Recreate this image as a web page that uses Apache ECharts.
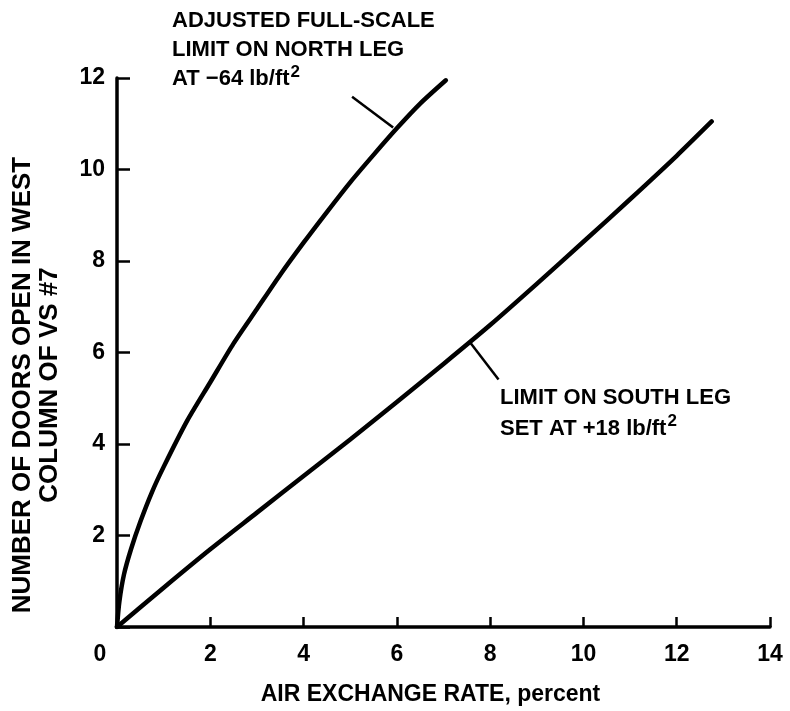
<!DOCTYPE html>
<html>
<head>
<meta charset="utf-8">
<script src="https://cdn.jsdelivr.net/npm/echarts@6/dist/echarts.min.js"></script>
<style>
html,body{margin:0;padding:0;background:#fff;}
#chart{width:790px;height:711px;}
</style>
</head>
<body>
<div id="chart"></div>
<script>
// Data
const xTicks = [0, 2, 4, 6, 8, 10, 12, 14];
const yTicks = [0, 2, 4, 6, 8, 10, 12];
const northX = [0, 0.05, 0.15, 0.3, 0.5, 0.75, 1, 1.5, 2, 2.5, 3, 3.5, 4, 4.5, 5, 5.5, 6, 6.5, 7.05];
const northY = [0, 0.55, 1.15, 1.7, 2.3, 2.95, 3.5, 4.5, 5.35, 6.2, 6.95, 7.7, 8.4, 9.07, 9.72, 10.32, 10.9, 11.44, 11.95];
const southX = [0, 1, 2, 3, 4, 5, 6, 7, 8, 9, 10, 11, 12, 12.75];
const southY = [0, 0.86, 1.7, 2.5, 3.3, 4.1, 4.92, 5.75, 6.6, 7.5, 8.42, 9.35, 10.3, 11.05];
// leader lines (data coordinates)
const northLeader = [[5.04, 11.59], [5.92, 10.92]];
const southLeader = [[7.58, 6.21], [8.18, 5.41]];
const northLabel = ['ADJUSTED FULL-SCALE', 'LIMIT ON NORTH LEG', 'AT \u221264 lb/ft'];
const southLabel = ['LIMIT ON SOUTH LEG', 'SET AT +18 lb/ft'];
const xTitle = 'AIR EXCHANGE RATE, percent';
const yTitle = ['NUMBER OF DOORS OPEN IN WEST', 'COLUMN OF VS #7'];

const FONT = '"Liberation Sans", Arial, Helvetica, sans-serif';
const zip = (a, b) => a.map((v, i) => [v, b[i]]);

const chart = echarts.init(document.getElementById('chart'));
const ANN = 22;
const textStyleBase = {fontFamily: FONT, fontWeight: 'bold', fontSize: ANN, fill: '#000'};
const richSup = {
  t: {fontFamily: FONT, fontWeight: 'bold', fontSize: ANN, fill: '#000'},
  s: {fontFamily: FONT, fontWeight: 'bold', fontSize: 17, fill: '#000', verticalAlign: 'top', padding: [0, 0, 12, 1]}
};

chart.setOption({
  animation: false,
  backgroundColor: '#fff',
  grid: {left: 117, right: 20, top: 78, bottom: 78, containLabel: false},
  xAxis: {
    type: 'value', min: 0, max: 14, interval: 2,
    axisLine: {show: true, onZero: false, lineStyle: {color: '#000', width: 3.5}},
    axisTick: {show: true, inside: true, length: 10, lineStyle: {color: '#000', width: 2.5}},
    splitLine: {show: false},
    axisLabel: {
      color: '#000', fontFamily: FONT, fontWeight: 'bold', fontSize: 23, margin: 16,
      formatter: v => v === 0 ? '{z|0}' : String(v),
      rich: {z: {color: '#000', fontFamily: FONT, fontWeight: 'bold', fontSize: 23, padding: [0, 34, 0, 0]}}
    },
    name: xTitle, nameLocation: 'middle', nameGap: 56,
    nameTextStyle: {color: '#000', fontFamily: FONT, fontWeight: 'bold', fontSize: 23, padding: [0, 26, 0, 0]}
  },
  yAxis: {
    type: 'value', min: 0, max: 12, interval: 2,
    axisLine: {show: true, onZero: false, lineStyle: {color: '#000', width: 3.5}},
    axisTick: {show: true, inside: true, length: 13, lineStyle: {color: '#000', width: 2.5}},
    splitLine: {show: false},
    axisLabel: {
      color: '#000', fontFamily: FONT, fontWeight: 'bold', fontSize: 23, margin: 12,
      formatter: v => v === 0 ? '' : String(v)
    }
  },
  series: [
    {
      type: 'line', data: zip(northX, northY), smooth: 0.25, showSymbol: false,
      lineStyle: {color: '#000', width: 4.5, cap: 'round', join: 'round'},
      markLine: {
        silent: true, symbol: ['none', 'none'],
        lineStyle: {color: '#000', width: 2.5, type: 'solid'}, label: {show: false},
        data: [[{coord: northLeader[0]}, {coord: northLeader[1]}]]
      }
    },
    {
      type: 'line', data: zip(southX, southY), smooth: 0.25, showSymbol: false,
      lineStyle: {color: '#000', width: 4.5, cap: 'round', join: 'round'},
      markLine: {
        silent: true, symbol: ['none', 'none'],
        lineStyle: {color: '#000', width: 2.5, type: 'solid'}, label: {show: false},
        data: [[{coord: southLeader[0]}, {coord: southLeader[1]}]]
      }
    }
  ],
  graphic: [
    {
      type: 'text', left: 172, top: 6,
      style: Object.assign({}, textStyleBase, {
        text: northLabel[0] + '\n' + northLabel[1] + '\n{t|' + northLabel[2] + '}{s|2}',
        lineHeight: 29, rich: richSup
      })
    },
    {
      type: 'text', left: 500, top: 382,
      style: Object.assign({}, textStyleBase, {
        text: southLabel[0] + '\n{t|' + southLabel[1] + '}{s|2}',
        lineHeight: 31, rich: richSup
      })
    },
    {
      type: 'text', x: 36, y: 385, rotation: Math.PI / 2,
      style: Object.assign({}, textStyleBase, {
        text: yTitle.join('\n'), fontSize: 26, lineHeight: 27, align: 'center', verticalAlign: 'middle'
      })
    }
  ]
});
</script>
</body>
</html>
